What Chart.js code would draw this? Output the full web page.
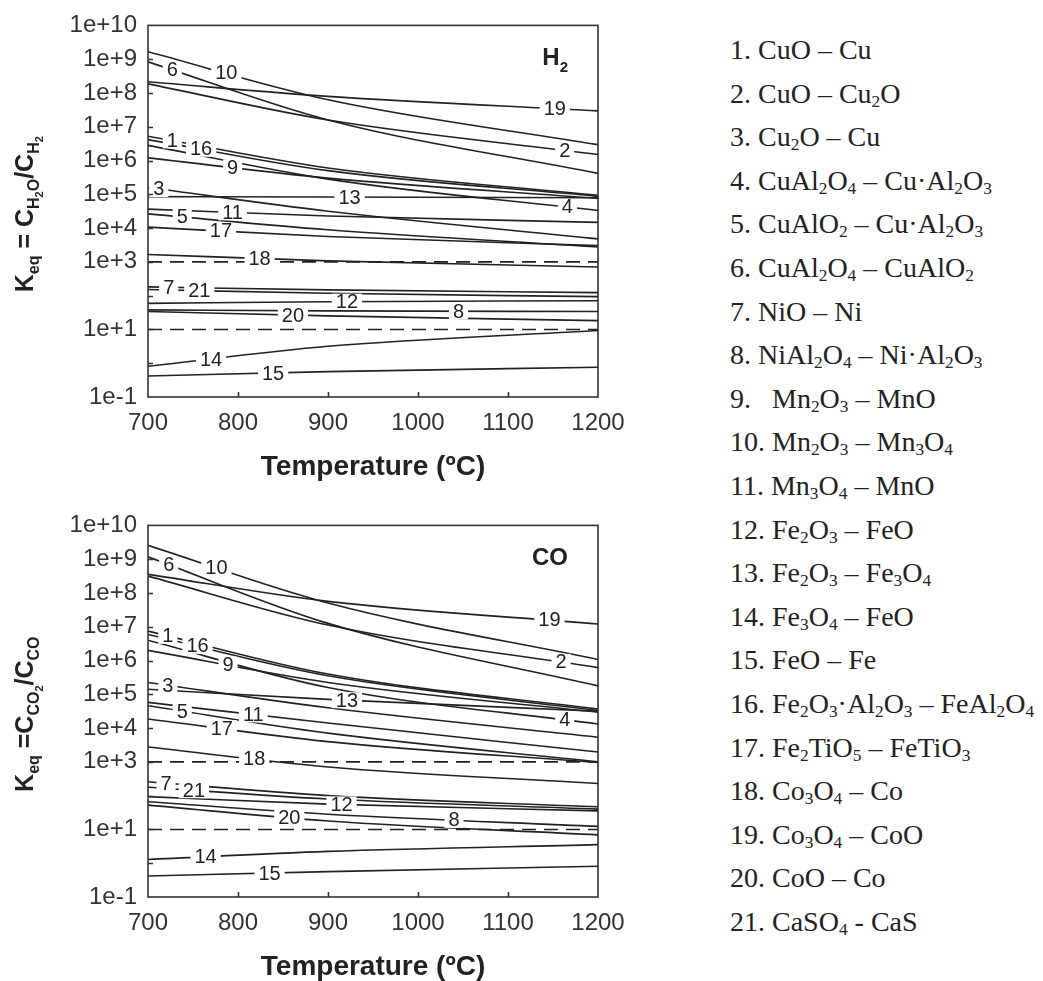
<!DOCTYPE html>
<html>
<head>
<meta charset="utf-8">
<script src="https://cdn.jsdelivr.net/npm/chart.js@4.4.1/dist/chart.umd.min.js"></script>
<style>
  html, body { margin: 0; padding: 0; background: #fff; overflow: hidden; }
  #wrap { position: relative; width: 1043px; height: 981px; }
  canvas { position: absolute; left: 0; }
  #c1 { top: 0; }
  #c2 { top: 500px; }
  #key { position: absolute; left: 730px; top: 28px; margin: 0; padding: 0; list-style: none;
         font-family: 'Liberation Serif', 'Times New Roman', serif; font-size: 28px; line-height: 43.6px; color: #222; }
  #key sub { font-size: 0.62em; vertical-align: -0.22em; line-height: 0; }
</style>
</head>
<body>
<div id="wrap">
  <canvas id="c1" width="640" height="485"></canvas>
  <canvas id="c2" width="640" height="485"></canvas>
  <ul id="key"></ul>
</div>
<script>
const temps = [700, 900, 1200];
const reactionIds = ['1','2','3','4','5','6','7','8','9','10','11','12','13','14','15','16','17','18','19','20','21'];
const reactionNames = [
  '1. CuO – Cu',
  '2. CuO – Cu<sub>2</sub>O',
  '3. Cu<sub>2</sub>O – Cu',
  '4. CuAl<sub>2</sub>O<sub>4</sub> – Cu·Al<sub>2</sub>O<sub>3</sub>',
  '5. CuAlO<sub>2</sub> – Cu·Al<sub>2</sub>O<sub>3</sub>',
  '6. CuAl<sub>2</sub>O<sub>4</sub> – CuAlO<sub>2</sub>',
  '7. NiO – Ni',
  '8. NiAl<sub>2</sub>O<sub>4</sub> – Ni·Al<sub>2</sub>O<sub>3</sub>',
  '9.&nbsp;&nbsp; Mn<sub>2</sub>O<sub>3</sub> – MnO',
  '10. Mn<sub>2</sub>O<sub>3</sub> – Mn<sub>3</sub>O<sub>4</sub>',
  '11. Mn<sub>3</sub>O<sub>4</sub> – MnO',
  '12. Fe<sub>2</sub>O<sub>3</sub> – FeO',
  '13. Fe<sub>2</sub>O<sub>3</sub> – Fe<sub>3</sub>O<sub>4</sub>',
  '14. Fe<sub>3</sub>O<sub>4</sub> – FeO',
  '15. FeO – Fe',
  '16. Fe<sub>2</sub>O<sub>3</sub>·Al<sub>2</sub>O<sub>3</sub> – FeAl<sub>2</sub>O<sub>4</sub>',
  '17. Fe<sub>2</sub>TiO<sub>5</sub> – FeTiO<sub>3</sub>',
  '18. Co<sub>3</sub>O<sub>4</sub> – Co',
  '19. Co<sub>3</sub>O<sub>4</sub> – CoO',
  '20. CoO – Co',
  '21. CaSO<sub>4</sub> - CaS'
];

// log10(Keq) at 700, 900 and 1200 ºC (reactions 1..21)
const h2At700  = [6.72, 8.27, 5.20, 6.45, 4.42, 8.92, 2.26, 1.58, 6.08, 9.22, 4.56, 1.77, 4.93, -0.09, -0.38, 6.62, 4.03, 3.22, 8.33, 1.53, 2.18];
const h2At900  = [5.78, 7.20, 4.50, 5.45, 3.95, 7.20, 2.17, 1.55, 5.48, 7.80, 4.36, 1.82, 4.92,  0.50, -0.25, 5.70, 3.75, 3.03, 7.90, 1.40, 2.07];
const h2At1200 = [4.97, 6.18, 3.68, 4.52, 3.44, 5.62, 2.09, 1.53, 4.88, 6.47, 4.17, 1.85, 4.90,  0.97, -0.12, 4.94, 3.48, 2.85, 7.47, 1.26, 1.97];
// same for the CO panel
const coAt700  = [6.87, 8.50, 5.35, 6.60, 4.66, 9.07, 2.41, 1.82, 6.30, 9.41, 4.76, 1.97, 5.15,  0.11, -0.38, 6.77, 4.27, 3.44, 8.55, 1.72, 2.25];
const coAt900  = [5.60, 7.05, 4.60, 5.20, 3.85, 7.10, 2.00, 1.45, 5.35, 7.70, 4.15, 1.75, 4.85,  0.35, -0.25, 5.55, 3.60, 2.85, 7.75, 1.25, 1.90];
const coAt1200 = [4.56, 5.79, 3.73, 4.12, 3.00, 5.25, 1.67, 1.09, 4.47, 6.03, 3.29, 1.55, 4.50,  0.55, -0.09, 4.52, 2.98, 2.36, 7.08, 0.84, 1.60];

// temperature where each curve number is written
const h2TagAt = [727, 1163, 712, 1166, 738, 727, 723, 1045, 794, 787, 794, 921, 924, 770, 839, 759, 781, 824, 1152, 861, 757];
const coTagAt = [722, 1159, 722, 1163, 738, 723, 720, 1040, 789, 776, 817, 915, 921, 764, 835, 755, 782, 818, 1146, 857, 751];

const refLevels = [3, 1]; // dashed lines, log10(Keq)
const yExps = [-1, 0, 1, 2, 3, 4, 5, 6, 7, 8, 9, 10];
const yTickLabels = ['1e-1', '', '1e+1', '', '1e+3', '1e+4', '1e+5', '1e+6', '1e+7', '1e+8', '1e+9', '1e+10'];
const xTicks = [700, 800, 900, 1000, 1100, 1200];

const SANS = 'Arial, "Liberation Sans", sans-serif';
const INK = '#222';

document.getElementById('key').innerHTML = reactionNames.map(n => '<li>' + n + '</li>').join('');

function richWidth(ctx, segs, sizes) {
  let w = 0;
  segs.forEach(s => { ctx.font = 'bold ' + sizes[s.l][0] + 'px ' + SANS; w += ctx.measureText(s.t).width; });
  return w;
}
function drawRich(ctx, segs, sizes, x0, y0) {
  let x = x0;
  segs.forEach(s => {
    ctx.font = 'bold ' + sizes[s.l][0] + 'px ' + SANS;
    ctx.fillText(s.t, x, y0 + sizes[s.l][1]);
    x += ctx.measureText(s.t).width;
  });
}

const panelPlugin = {
  id: 'panel',
  afterDatasetsDraw(chart, args, opts) {
    const { ctx, chartArea: a, scales: { x, y } } = chart;
    ctx.save();

    // curve numbers, each sitting in a gap of its line
    ctx.font = '20px ' + SANS;
    ctx.textAlign = 'center';
    ctx.textBaseline = 'middle';
    chart.data.datasets.forEach(ds => {
      if (ds.tagAt == null) return;
      const t = ds.tagAt, pts = ds.data;
      let k = 0;
      while (k < pts.length - 2 && t > pts[k + 1].x) k++;
      const p0 = pts[k], p1 = pts[k + 1];
      const f = (t - p0.x) / (p1.x - p0.x);
      const lv = Math.log10(p0.y) + f * (Math.log10(p1.y) - Math.log10(p0.y));
      const px = x.getPixelForValue(t), py = y.getPixelForValue(Math.pow(10, lv));
      const w = ctx.measureText(ds.label).width;
      ctx.fillStyle = '#fff';
      ctx.fillRect(px - w / 2 - 4, py - 8, w + 8, 16);
      ctx.fillStyle = INK;
      ctx.fillText(ds.label, px, py + 1);
    });

    // frame + inward ticks
    ctx.strokeStyle = '#333';
    ctx.lineWidth = 1.6;
    ctx.strokeRect(a.left, a.top, a.right - a.left, a.bottom - a.top);
    ctx.beginPath();
    yExps.slice(1, -1).forEach(e => {
      const py = Math.round(y.getPixelForValue(Math.pow(10, e))) + 0.5;
      ctx.moveTo(a.left, py); ctx.lineTo(a.left + 5, py);
    });
    xTicks.slice(1, -1).forEach(v => {
      const px = Math.round(x.getPixelForValue(v)) + 0.5;
      ctx.moveTo(px, a.bottom); ctx.lineTo(px, a.bottom - 5);
    });
    ctx.stroke();

    // gas name in the corner
    ctx.textAlign = 'left';
    ctx.textBaseline = 'alphabetic';
    ctx.fillStyle = INK;
    const gs = [[24, 0], [15, 7]];
    const gw = richWidth(ctx, opts.gas, gs);
    drawRich(ctx, opts.gas, gs, a.right - 30 - gw, a.top + 40);

    // rotated y title with subscripts
    const ts = [[25, 0], [16, 6], [11, 10]];
    const tw = richWidth(ctx, opts.yTitle, ts);
    ctx.translate(33, (a.top + a.bottom) / 2 + 3);
    ctx.rotate(-Math.PI / 2);
    drawRich(ctx, opts.yTitle, ts, -tw / 2, 0);
    ctx.restore();
  }
};

function makeChart(id, at700, at900, at1200, tagAt, gas, yTitle) {
  const rows = [at700, at900, at1200];
  const datasets = reactionIds.map((rid, i) => ({
    label: rid,
    data: temps.map((t, j) => ({ x: t, y: Math.pow(10, rows[j][i]) })),
    borderColor: INK,
    borderWidth: 1.6,
    pointRadius: 0,
    fill: false,
    cubicInterpolationMode: 'monotone',
    tagAt: tagAt[i]
  }));
  refLevels.forEach(v => datasets.push({
    label: '',
    data: [{ x: 700, y: Math.pow(10, v) }, { x: 1200, y: Math.pow(10, v) }],
    borderColor: INK,
    borderWidth: 1.6,
    borderDash: [14, 8],
    pointRadius: 0,
    fill: false
  }));

  return new Chart(document.getElementById(id), {
    type: 'line',
    data: { datasets: datasets },
    options: {
      responsive: false,
      animation: false,
      events: [],
      layout: { padding: { top: 21, right: 42, left: 0, bottom: 1 } },
      plugins: {
        legend: { display: false },
        tooltip: { enabled: false },
        panel: { gas: gas, yTitle: yTitle }
      },
      scales: {
        x: {
          type: 'linear',
          min: 700,
          max: 1200,
          afterBuildTicks: s => { s.ticks = xTicks.map(v => ({ value: v })); },
          afterFit: s => { s.height = 87; },
          ticks: { color: '#333', font: { size: 24, family: SANS }, padding: 12, maxRotation: 0,
                   callback: v => String(v) },
          grid: { display: false, drawTicks: false },
          border: { display: false },
          title: { display: true, text: 'Temperature (ºC)', color: INK, padding: 0,
                   font: { size: 28, weight: 'bold', family: SANS } }
        },
        y: {
          type: 'logarithmic',
          min: 0.1,
          max: 1e10,
          afterBuildTicks: s => { s.ticks = yExps.map(e => ({ value: Math.pow(10, e) })); },
          afterFit: s => { s.width = 148; },
          ticks: { color: '#333', font: { size: 24, family: SANS }, padding: 11, autoSkip: false,
                   callback: v => yTickLabels[yExps.indexOf(Math.round(Math.log10(v)))] },
          grid: { display: false, drawTicks: false },
          border: { display: false }
        }
      }
    },
    plugins: [panelPlugin]
  });
}

makeChart('c1', h2At700, h2At900, h2At1200, h2TagAt,
  [{ t: 'H', l: 0 }, { t: '2', l: 1 }],
  [{ t: 'K', l: 0 }, { t: 'eq', l: 1 }, { t: ' = C', l: 0 }, { t: 'H', l: 1 }, { t: '2', l: 2 }, { t: 'O', l: 1 },
   { t: '/C', l: 0 }, { t: 'H', l: 1 }, { t: '2', l: 2 }]);
makeChart('c2', coAt700, coAt900, coAt1200, coTagAt,
  [{ t: 'CO', l: 0 }],
  [{ t: 'K', l: 0 }, { t: 'eq', l: 1 }, { t: ' =C', l: 0 }, { t: 'CO', l: 1 }, { t: '2', l: 2 },
   { t: '/C', l: 0 }, { t: 'CO', l: 1 }]);
</script>
</body>
</html>
